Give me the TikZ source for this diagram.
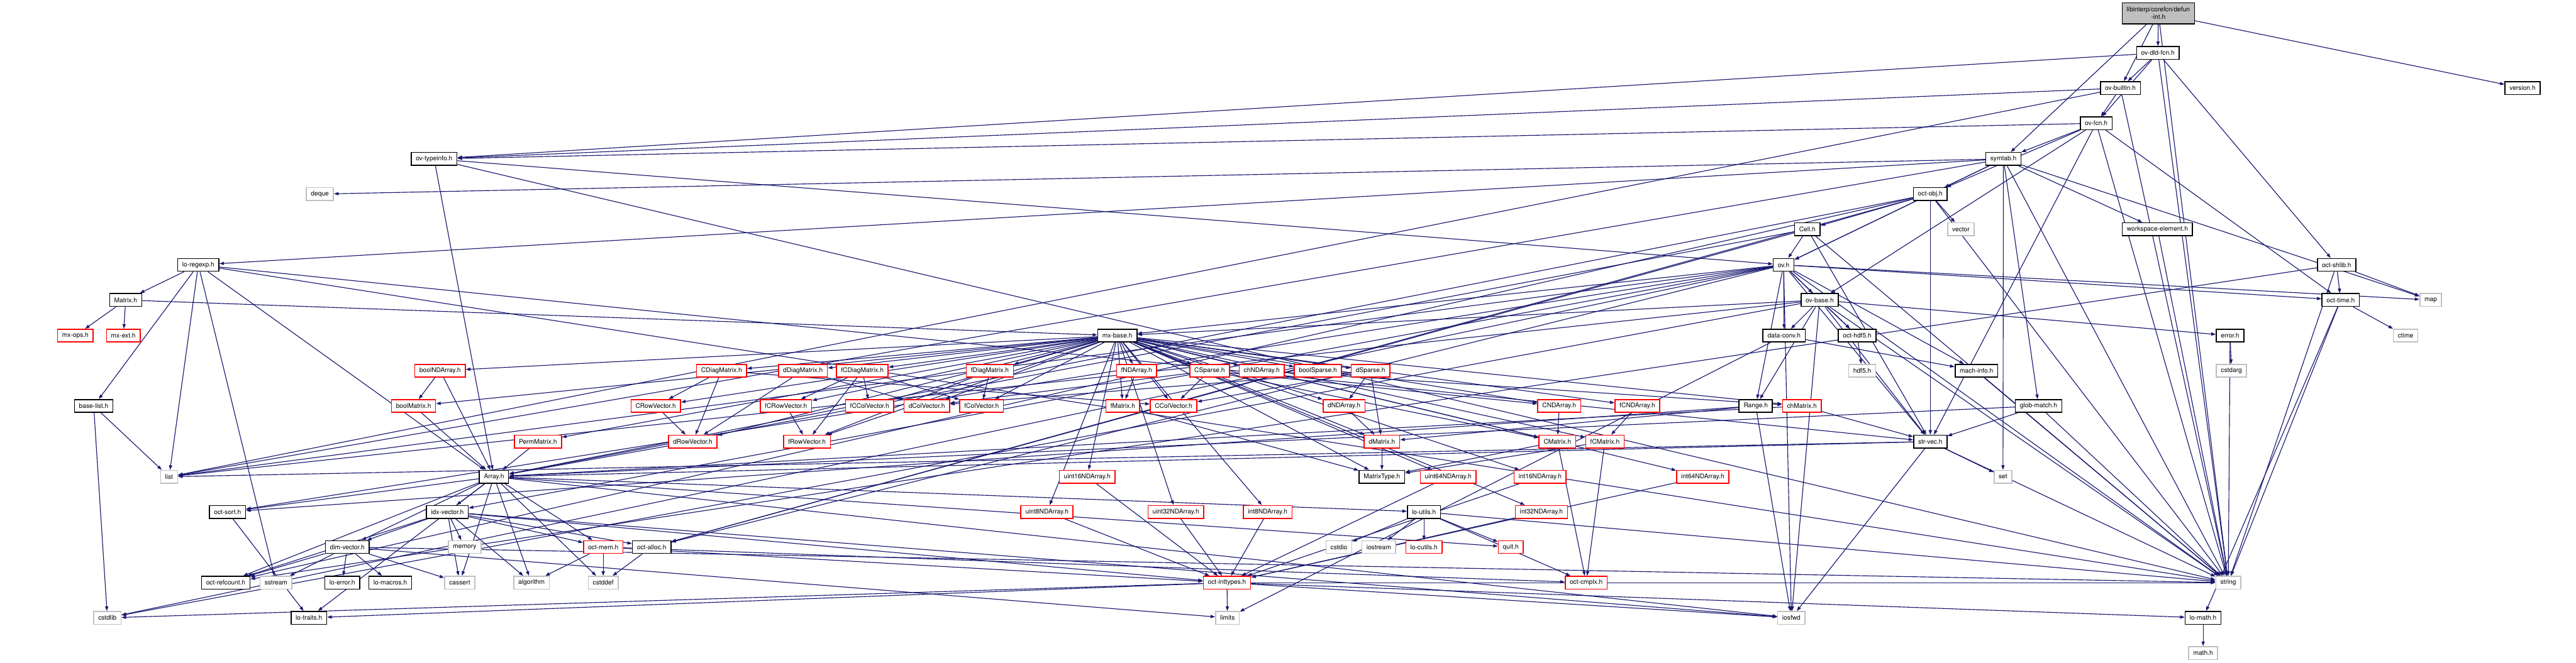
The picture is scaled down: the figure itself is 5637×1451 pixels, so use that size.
\documentclass[tikz,border=0pt]{standalone}
\usepackage{fontspec}
\newfontfamily\dotfont{TeX Gyre Heros}
\usepackage{tikz}
\usetikzlibrary{arrows.meta, backgrounds}
\definecolor{edgeblue}{HTML}{191970}
\definecolor{sysgrey}{HTML}{BFBFBF}

\begin{document}
\begin{tikzpicture}[
        x=0.01cm, y=-0.01cm,
        every node/.style={font=\dotfont\fontsize{4}{4.6}\selectfont},
        hdr/.style={draw=black, fill=white, line width=0.6pt,
                    minimum height=0.28cm, inner xsep=0.1cm, inner ysep=0pt},
        trunc/.style={hdr, draw=red},
        sys/.style={hdr, draw=sysgrey},
        root/.style={hdr, fill=sysgrey, align=center, minimum height=0.46cm},
        dep/.style={-{Triangle[length=0.1cm, width=0.07cm]},
                    draw=edgeblue, line width=0.45pt}
    ]
    \useasboundingbox (0,0) rectangle (5637,1451);

    % --- top chain ---
    \node[root] (defun) at (4723,29) {libinterp/corefcn/defun\\-int.h};
    \node[hdr] (ovdld) at (4722,116) {ov-dld-fcn.h};
    \node[hdr] (ovbuiltin) at (4640,193) {ov-builtin.h};
    \node[hdr] (version) at (5520,193) {version.h};
    \node[hdr] (ovfcn) at (4587,270) {ov-fcn.h};
    \node[hdr] (typeinfo) at (950,348) {ov-typeinfo.h};
    \node[hdr] (symtab) at (4384,348) {symtab.h};
    \node[sys] (deque) at (700,425) {deque};
    \node[hdr] (octobj) at (4224,425) {oct-obj.h};
    \node[hdr] (cell) at (3955,502) {Cell.h};
    \node[sys] (vector) at (4291,502) {vector};
    \node[hdr] (wselem) at (4721,502) {workspace-element.h};
    \node[hdr] (regexp) at (434,580) {lo-regexp.h};
    \node[hdr] (ovh) at (3903,580) {ov.h};
    \node[hdr] (shlib) at (5113,580) {oct-shlib.h};
    \node[hdr] (matrix) at (275,657) {Matrix.h};
    \node[hdr] (ovbase) at (3982,657) {ov-base.h};
    \node[hdr] (octtime) at (5122,657) {oct-time.h};
    \node[sys] (map) at (5319,657) {map};
    \node[trunc] (mxops) at (165,735) {mx-ops.h};
    \node[trunc] (mxext) at (270,735) {mx-ext.h};
    \node[hdr] (mxbase) at (2445,735) {mx-base.h};
    \node[hdr] (dataconv) at (3904,735) {data-conv.h};
    \node[hdr] (octhdf) at (4064,735) {oct-hdf5.h};
    \node[hdr] (error) at (4880,735) {error.h};
    \node[sys] (ctime) at (5264,735) {ctime};

    % --- matrix types ---
    \node[trunc] (boolNDA) at (963,812) {boolNDArray.h};
    \node[trunc] (CDiag) at (1579,812) {CDiagMatrix.h};
    \node[trunc] (dDiag) at (1757,812) {dDiagMatrix.h};
    \node[trunc] (fCDiag) at (1887,812) {fCDiagMatrix.h};
    \node[trunc] (fDiag) at (2166,812) {fDiagMatrix.h};
    \node[trunc] (fNDA) at (2487,812) {fNDArray.h};
    \node[trunc] (CSparse) at (2647,812) {CSparse.h};
    \node[trunc] (chNDA) at (2761,812) {chNDArray.h};
    \node[trunc] (boolSp) at (2884,812) {boolSparse.h};
    \node[trunc] (dSparse) at (2999,812) {dSparse.h};
    \node[sys] (hdfh) at (4075,812) {hdf5.h};
    \node[hdr] (machinfo) at (4325,812) {mach-info.h};
    \node[sys] (cstdarg) at (4883,812) {cstdarg};

    \node[hdr] (baselist) at (205,889) {base-list.h};
    \node[trunc] (boolMat) at (905,889) {boolMatrix.h};
    \node[trunc] (CRowVec) at (1435,889) {CRowVector.h};
    \node[trunc] (fCRowVec) at (1720,889) {fCRowVector.h};
    \node[trunc] (fCColVec) at (1903,889) {fCColVector.h};
    \node[trunc] (dColVec) at (2028,889) {dColVector.h};
    \node[trunc] (fColVec) at (2148,889) {fColVector.h};
    \node[trunc] (fMat) at (2457,889) {fMatrix.h};
    \node[trunc] (CColVec) at (2568,889) {CColVector.h};
    \node[trunc] (dNDA) at (2941,889) {dNDArray.h};
    \node[trunc] (CNDA) at (3412,889) {CNDArray.h};
    \node[trunc] (fCNDA) at (3583,889) {fCNDArray.h};
    \node[hdr] (range) at (3842,889) {Range.h};
    \node[trunc] (chMat) at (3943,889) {chMatrix.h};
    \node[hdr] (globmatch) at (4461,889) {glob-match.h};

    \node[trunc] (perm) at (1177,967) {PermMatrix.h};
    \node[trunc] (dRowVec) at (1516,967) {dRowVector.h};
    \node[trunc] (fRowVec) at (1766,967) {fRowVector.h};
    \node[trunc] (dMat) at (3024,967) {dMatrix.h};
    \node[trunc] (CMat) at (3408,967) {CMatrix.h};
    \node[trunc] (fCMat) at (3512,967) {fCMatrix.h};
    \node[hdr] (strvec) at (4224,967) {str-vec.h};

    % --- lower rows ---
    \node[sys] (list) at (370,1044) {list};
    \node[hdr] (array) at (1081,1044) {Array.h};
    \node[trunc] (u16) at (2379,1044) {uint16NDArray.h};
    \node[hdr] (mtype) at (3024,1044) {MatrixType.h};
    \node[trunc] (u64) at (3169,1044) {uint64NDArray.h};
    \node[trunc] (i16) at (3370,1044) {int16NDArray.h};
    \node[trunc] (i64) at (3726,1044) {int64NDArray.h};
    \node[sys] (set) at (4383,1044) {set};

    \node[hdr] (octsort) at (498,1121) {oct-sort.h};
    \node[hdr] (idxvec) at (979,1121) {idx-vector.h};
    \node[trunc] (u8) at (2291,1121) {uint8NDArray.h};
    \node[trunc] (u32) at (2573,1121) {uint32NDArray.h};
    \node[trunc] (i8) at (2774,1121) {int8NDArray.h};
    \node[hdr] (loutils) at (3116,1121) {lo-utils.h};
    \node[trunc] (i32) at (3373,1121) {int32NDArray.h};

    \node[hdr] (dimvec) at (760,1198) {dim-vector.h};
    \node[sys] (memory) at (1017,1198) {memory};
    \node[trunc] (octmem) at (1320,1198) {oct-mem.h};
    \node[hdr] (octalloc) at (1426,1198) {oct-alloc.h};
    \node[sys] (cstdio) at (2930,1198) {cstdio};
    \node[sys] (iostream) at (3017,1198) {iostream};
    \node[trunc] (locutils) at (3116,1198) {lo-cutils.h};
    \node[trunc] (quit) at (3306,1198) {quit.h};

    \node[hdr] (refcount) at (494,1276) {oct-refcount.h};
    \node[sys] (sstream) at (604,1276) {sstream};
    \node[hdr] (loerror) at (749,1276) {lo-error.h};
    \node[hdr] (lomacros) at (854,1276) {lo-macros.h};
    \node[sys] (cassert) at (1006,1276) {cassert};
    \node[sys] (algorithm) at (1163,1276) {algorithm};
    \node[sys] (cstddef) at (1320,1276) {cstddef};
    \node[trunc] (inttypes) at (2685,1276) {oct-inttypes.h};
    \node[trunc] (cmplx) at (3471,1276) {oct-cmplx.h};
    \node[sys] (string) at (4876,1276) {string};

    \node[sys] (cstdlib) at (235,1353) {cstdlib};
    \node[hdr] (lotraits) at (676,1353) {lo-traits.h};
    \node[sys] (limits) at (2686,1353) {limits};
    \node[sys] (iosfwd) at (3920,1353) {iosfwd};
    \node[hdr] (lomath) at (4821,1353) {lo-math.h};
    \node[sys] (mathh) at (4821,1430) {math.h};

    % --- include edges ---
    \begin{scope}[on background layer]
    \foreach \t in {ovdld,ovbuiltin,symtab,version,string} \draw[dep] (defun) -- (\t);
    \foreach \t in {ovbuiltin,ovfcn,shlib,typeinfo,string} \draw[dep] (ovdld) -- (\t);
    \foreach \t in {ovfcn,typeinfo,list,string} \draw[dep] (ovbuiltin) -- (\t);
    \foreach \t in {octtime,strvec,octobj,ovbase,typeinfo,symtab,string} \draw[dep] (ovfcn) -- (\t);
    \foreach \t in {deque,list,map,set,string,globmatch,regexp,octobj,wselem,ovh} \draw[dep] (symtab) -- (\t);
    \foreach \t in {string,array,ovh} \draw[dep] (typeinfo) -- (\t);
    \foreach \t in {string,vector,octalloc,strvec,array,cell,ovh,refcount} \draw[dep] (octobj) -- (\t);
    \foreach \t in {string,array,octalloc,strvec,ovh} \draw[dep] (cell) -- (\t);
    \draw[dep] (wselem) -- (string);
    \foreach \t in {list,sstream,string,array,matrix,baselist,strvec} \draw[dep] (regexp) -- (\t);
    \foreach \t in {cstdlib,iosfwd,string,list,map,range,dataconv,idxvec,machinfo,mxbase,octalloc,octtime,strvec,octhdf,octsort,ovbase} \draw[dep] (ovh) -- (\t);
    \foreach \t in {string,map,octtime,refcount} \draw[dep] (shlib) -- (\t);
    \foreach \t in {mxbase,mxops,mxext} \draw[dep] (matrix) -- (\t);
    \foreach \t in {cstdlib,iosfwd,list,string,range,dataconv,mxbase,strvec,error,octhdf} \draw[dep] (ovbase) -- (\t);
    \foreach \t in {ctime,string,lomath} \draw[dep] (octtime) -- (\t);
    \foreach \t in {mtype,boolMat,chMat,dMat,CMat,fMat,fCMat,dColVec,CColVec,fColVec,fCColVec,dRowVec,CRowVec,fRowVec,fCRowVec,dDiag,CDiag,fDiag,fCDiag,perm,boolNDA,chNDA,dNDA,CNDA,fNDA,fCNDA,i8,i16,i32,i64,u8,u16,u32,u64,boolSp,CSparse,dSparse} \draw[dep] (mxbase) -- (\t);
    \foreach \t in {limits,machinfo} \draw[dep] (dataconv) -- (\t);
    \draw[dep] (octhdf) -- (hdfh);
    \foreach \t in {cstdarg,string} \draw[dep] (error) -- (\t);
    \draw[dep] (machinfo) -- (string);
    \foreach \t in {boolMat,array} \draw[dep] (boolNDA) -- (\t);
    \foreach \t in {CRowVec,CColVec,dRowVec} \draw[dep] (CDiag) -- (\t);
    \foreach \t in {dRowVec,dColVec} \draw[dep] (dDiag) -- (\t);
    \foreach \t in {fCRowVec,fCColVec,fRowVec,fColVec} \draw[dep] (fCDiag) -- (\t);
    \foreach \t in {fColVec,fRowVec} \draw[dep] (fDiag) -- (\t);
    \draw[dep] (fNDA) -- (fMat);
    \foreach \t in {CColVec,dColVec,CMat,CNDA} \draw[dep] (CSparse) -- (\t);
    \draw[dep] (chNDA) -- (chMat);
    \foreach \t in {dNDA,dColVec,dMat,CColVec} \draw[dep] (dSparse) -- (\t);
    \draw[dep] (boolMat) -- (array);
    \draw[dep] (CRowVec) -- (dRowVec);
    \draw[dep] (fCRowVec) -- (fRowVec);
    \draw[dep] (fMat) -- (mtype);
    \draw[dep] (dNDA) -- (dMat);
    \draw[dep] (CNDA) -- (CMat);
    \draw[dep] (fCNDA) -- (fCMat);
    \foreach \t in {dMat,octsort,iosfwd} \draw[dep] (range) -- (\t);
    \foreach \t in {strvec,array} \draw[dep] (chMat) -- (\t);
    \foreach \t in {array,strvec,string} \draw[dep] (globmatch) -- (\t);
    \draw[dep] (perm) -- (array);
    \draw[dep] (dRowVec) -- (array);
    \draw[dep] (dMat) -- (mtype);
    \foreach \t in {mtype,cmplx} \draw[dep] (CMat) -- (\t);
    \foreach \t in {mtype,cmplx} \draw[dep] (fCMat) -- (\t);
    \foreach \t in {set,iosfwd,string,list,array} \draw[dep] (strvec) -- (\t);
    \foreach \s in {u8,u16,u32,u64,i8,i16,i32,i64} \draw[dep] (\s) -- (inttypes);
    \foreach \t in {cassert,cstddef,algorithm,iosfwd,dimvec,idxvec,lotraits,loutils,octsort,quit,octmem,refcount} \draw[dep] (array) -- (\t);
    \draw[dep] (octsort) -- (lotraits);
    \foreach \t in {cassert,algorithm,iosfwd,memory,dimvec,inttypes,octalloc,octmem,refcount} \draw[dep] (idxvec) -- (\t);
    \foreach \t in {cstdio,iostream,string,locutils,cmplx,quit} \draw[dep] (loutils) -- (\t);
    \foreach \t in {cassert,limits,sstream,string,loerror,lomacros,refcount} \draw[dep] (dimvec) -- (\t);
    \foreach \t in {algorithm,cstddef,cmplx,inttypes} \draw[dep] (octmem) -- (\t);
    \draw[dep] (octalloc) -- (cstddef);
    \foreach \t in {limits,cstdlib,iosfwd,lotraits,lomath,string} \draw[dep] (inttypes) -- (\t);
    \draw[dep] (lomath) -- (mathh);
    \foreach \t in {list,cstdlib} \draw[dep] (baselist) -- (\t);
    \end{scope}
\end{tikzpicture}
\end{document}
